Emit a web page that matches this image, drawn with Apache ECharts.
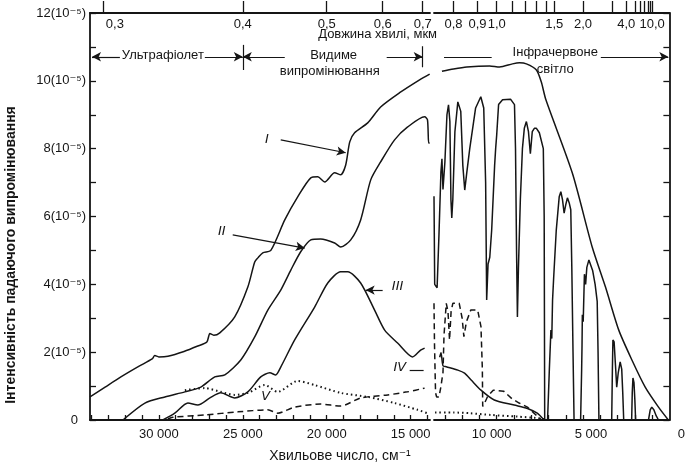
<!DOCTYPE html>
<html><head><meta charset="utf-8">
<script src="https://cdn.jsdelivr.net/npm/echarts@6/dist/echarts.min.js"></script>
<style>html,body{margin:0;padding:0;background:#fff}#c{width:688px;height:469px}</style>
</head><body><div id="c"></div>
<script>
// ---- data: [wavenumber cm^-1, intensity (×10^-5)] ----
const curveI_left = [[34100,0.68],[33200,0.97],[32260,1.27],[31200,1.58],[30400,1.80],[30240,1.90],[30000,1.86],[29460,1.88],[28500,2.02],[27680,2.18],[27140,2.30],[26960,2.55],[26730,2.50],[26370,2.57],[25480,3.04],[24700,3.92],[24290,4.66],[24100,4.78],[23810,4.93],[23330,5.00],[22500,5.90],[21730,6.58],[20950,7.14],[20540,7.17],[20120,7.02],[19530,7.29],[19170,7.23],[18870,7.52],[18630,8.20],[18340,8.47],[17560,8.76],[16790,9.23],[15660,9.65],[14470,10.03],[13870,10.20]];
const curveI_right = [[13170,10.28],[12500,10.35],[11730,10.41],[10410,10.44],[9830,10.41],[9085,10.50],[8680,10.53],[8280,10.50],[7700,10.32],[7420,9.97],[7150,9.44],[5620,7.28],[4470,5.10],[3700,3.92],[2930,2.65],[2170,1.77],[1400,0.97],[630,0.38],[60,0]];
const curveII_left = [[32140,0],[30830,0.50],[29640,0.68],[28450,0.83],[27500,0.97],[26670,1.27],[26070,1.33],[25120,1.77],[24290,2.45],[23510,3.24],[22740,3.83],[22140,4.42],[21550,4.96],[20950,5.31],[20360,5.34],[19530,5.22],[19170,5.10],[18570,5.31],[17980,5.90],[17380,7.08],[16790,7.61],[15960,8.26],[15180,8.64],[14170,8.94],[14000,8.85],[13930,8.17],[13870,8.17]];
const curveII_right = [[13630,6.6],[13590,4.0],[13450,3.9],[13340,5.5],[13230,7.3],[13170,7.7],[13110,6.8],[13000,7.6],[12880,9.0],[12790,9.29],[12710,8.8],[12650,6.5],[12600,5.96],[12540,6.5],[12420,8.5],[12250,9.38],[12080,9.1],[11960,7.5],[11850,6.78],[11730,7.3],[11560,8.0],[11220,9.2],[10920,9.53],[10750,9.2],[10640,7.0],[10580,3.54],[10500,4.6],[10400,4.8],[10290,5.6],[10120,7.5],[10060,8.0],[10000,8.4],[9890,9.3],[9660,9.44],[9200,9.46],[8970,9.3],[8910,8.0],[8850,5.0],[8800,3.04],[8740,4.5],[8630,6.5],[8510,8.0],[8400,8.6],[8280,8.8],[8160,8.5],[8050,7.85],[7940,8.5],[7820,8.6],[7700,8.6],[7530,8.47],[7300,8.0],[7250,6.0],[7220,0],[7055,0],[6950,1.5],[6860,2.65],[6810,2.4],[6765,3.54],[6700,4.2],[6550,5.6],[6380,6.58],[6285,6.73],[6190,6.5],[6095,6.1],[6000,6.35],[5905,6.55],[5800,6.4],[5710,6.2],[5650,4.5],[5580,2.0],[5520,0],[5140,0],[5080,1.5],[5060,2.15],[5040,3.1],[4990,2.9],[4920,4.3],[4850,4.0],[4780,4.5],[4660,4.72],[4560,4.75],[4440,4.4],[4300,4.0],[4180,3.5],[4130,2.0],[4080,0],[3340,0],[3300,1.5],[3270,2.36],[3200,2.3],[3120,1.6],[3050,0.97],[2960,1.4],[2850,1.71],[2760,1.5],[2700,0.8],[2645,0],[2185,0],[2150,0.8],[2110,1.24],[2050,1.1],[2000,0.6],[1955,0],[1210,0],[1110,0.3],[1020,0.38],[900,0.3],[760,0.12],[630,0],[0,0]];
const curveIII_left = [[29760,0],[29050,0.20],[28270,0.50],[27680,0.44],[26960,0.65],[26310,0.80],[25480,0.65],[24700,0.83],[23930,1.27],[23390,1.39],[23040,1.33],[22740,1.56],[21910,2.36],[20720,3.33],[19940,4.04],[19170,4.37],[18750,4.37],[17980,4.04],[17150,3.24],[16550,2.65],[15780,2.27],[14890,1.86],[14410,2.06],[14170,2.12]];
const curveIII_right = [[13300,1.85],[13225,1.98],[13110,1.60],[12920,1.57],[12250,1.47],[11860,1.38],[11480,1.18],[10910,0.88],[10140,0.59],[8990,0.44],[8220,0.34],[7650,0.20],[7260,0]];
const curveIV_left = [[29460,0.03],[29170,0.08],[27260,0.15],[25300,0.24],[23510,0.30],[22920,0.20],[21910,0.38],[20360,0.47],[19170,0.41],[17980,0.65],[16370,0.74],[15180,0.83],[14170,0.94]];
const curveIV_right = [[13630,3.44],[13600,2.2],[13570,1.5],[13540,0.8],[13480,0.68],[13340,0.68],[13225,1.0],[13110,1.4],[13050,2.5],[12920,3.44],[12820,3.2],[12730,2.36],[12640,3.2],[12540,3.44],[12170,3.44],[12000,3.0],[11900,2.46],[11750,2.9],[11500,3.24],[11100,3.24],[10910,2.75],[10830,1.5],[10810,0.4],[10700,0.5],[10520,0.7],[10200,0.88],[9600,0.85],[9100,0.62],[8700,0.5],[8220,0.38],[7840,0.2],[7450,0.03]];
const curveV_left = [[28450,0.88],[27260,0.94],[26310,0.83],[25480,0.74],[24700,0.80],[23690,1.03],[22920,0.83],[21730,1.15],[20720,1.03],[19170,0.80],[17560,0.68],[15960,0.50],[14590,0.30],[14000,0.20]];
const curveV_right = [[13570,0.22],[12480,0.22],[11560,0.20],[10350,0.15],[8800,0.10],[7700,0.06],[7245,0.02]];

// ---- axes / ticks ----
const bottomTicksLeft = [14000,15000,16000,17000,18000,19000,20000,21000,22000,23000,24000,25000,26000,27000,28000,29000,30000,31000,32000,33000,34000];
const bottomLabelsLeft = [15000,20000,25000,30000];
const bottomTicksRight = [1000,2000,3000,4000,5000,6000,7000,8000,9000,10000,11000,12000,13000];
const bottomLabelsRight = [0,5000,10000];
const topTickWavelengths = [0.3,0.4,0.5,0.6,0.7,0.8,0.9,1.0,1.1,1.2,1.3,1.4,1.5,2.0,3.0,4.0,5.0,6.0,7.0,8.0,9.0,10.0];
const topLabelWavelengths = [0.3,0.4,0.5,0.6,0.7,0.8,0.9,1.0,1.5,2.0,4.0,10.0];
const topLabelTexts = ['0,3','0,4','0,5','0,6','0,7','0,8','0,9','1,0','1,5','2,0','4,0','10,0'];
const leftRange = [13850, 34100];
const rightRange = [0, 13630];

const FONT = "'Liberation Sans', 'DejaVu Sans', Arial, sans-serif";
const INK = '#151515';
const toWn = l => 1e4 / l;
const topTicksL = topTickWavelengths.map(toWn).filter(v => v >= leftRange[0]);
const topTicksR = topTickWavelengths.map(toWn).filter(v => v <= rightRange[1]);
const topLabsL = topLabelWavelengths.map(toWn).filter(v => v >= leftRange[0]);
const topLabsR = topLabelWavelengths.map(toWn).filter(v => v <= rightRange[1]);
function topFmt(v) {
  const i = topLabelWavelengths.findIndex(l => Math.abs(toWn(l) - v) < 1);
  if (i < 0) return '';
  return i === 0 ? '{s|' + topLabelTexts[i] + '}' : topLabelTexts[i];
}
const thou = v => String(v).replace(/\B(?=(\d{3})+(?!\d))/g, ' ');
const axisLineStyle = { color: INK, width: 1.8 };
const labelStyle = { color: INK, fontFamily: FONT, fontSize: 13 };

function bottomAxis(grid, range, ticks, labels, fmt, rich) {
  return {
    type: 'value', gridIndex: grid, position: 'bottom', inverse: true,
    min: range[0], max: range[1],
    axisLine: { show: true, lineStyle: axisLineStyle },
    axisTick: { show: true, inside: true, length: 5, customValues: ticks, lineStyle: { color: INK, width: 1.3 } },
    axisLabel: Object.assign({ show: true, margin: 8, customValues: labels, formatter: fmt, rich: rich || {} }, labelStyle),
    splitLine: { show: false }
  };
}
function topAxis(grid, range, ticks, labels) {
  return {
    type: 'value', gridIndex: grid, position: 'top', inverse: true,
    min: range[0], max: range[1],
    axisLine: { show: true, lineStyle: axisLineStyle },
    axisTick: { show: true, inside: false, length: 12, customValues: ticks, lineStyle: { color: INK, width: 1.3 } },
    axisLabel: Object.assign({ show: true, inside: true, margin: 5, customValues: labels, formatter: topFmt,
      rich: { s: { padding: [0, 0, 0, 24], fontSize: 13, fontFamily: FONT, color: INK } } }, labelStyle),
    splitLine: { show: false }
  };
}
const solid = { color: INK, width: 1.5, type: 'solid' };
const dashed = { color: INK, width: 1.5, type: [6, 4] };
const dotted = { color: INK, width: 2, type: [1.5, 3] };
function ser(data, grid, style, extra) {
  return Object.assign({
    type: 'line', data: data, xAxisIndex: grid === 0 ? 0 : 2, yAxisIndex: grid,
    showSymbol: false, symbol: 'none', lineStyle: style, smooth: 0.25, silent: true, z: 3
  }, extra || {});
}
const annStyle = { color: INK, width: 1.2, type: 'solid' };
function seg(a, b, s1, s2, w) {
  return [{ coord: a, symbol: s1 || 'none', lineStyle: Object.assign({}, annStyle, w ? { width: w } : {}) }, { coord: b, symbol: s2 || 'none' }];
}
function txt(coord, text, extra) {
  return {
    coord: coord, symbol: 'circle', symbolSize: 1, itemStyle: { color: 'rgba(0,0,0,0)' },
    label: Object.assign({ show: true, position: 'inside', formatter: text, color: INK, fontFamily: FONT, fontSize: 13 }, extra || {})
  };
}
const italic = { fontStyle: 'italic', fontSize: 13, fontFamily: "'DejaVu Sans', sans-serif" };

const chart = echarts.init(document.getElementById('c'), null, { renderer: 'canvas' });
chart.setOption({
  animation: false,
  backgroundColor: '#fff',
  grid: [
    { left: 90, top: 13, width: 340, height: 407 },
    { left: 434, top: 13, width: 237, height: 407 }
  ],
  xAxis: [
    bottomAxis(0, leftRange, bottomTicksLeft, bottomLabelsLeft, v => thou(v)),
    topAxis(0, leftRange, topTicksL, topLabsL),
    bottomAxis(1, rightRange, bottomTicksRight, bottomLabelsRight,
      v => v === 0 ? '{a|0}' : (v === 5000 ? '{b|5 000}' : '{c|10 000}'),
      { a: { padding: [0, 0, 0, 24], fontSize: 13, fontFamily: FONT, color: INK },
        b: { padding: [0, 0, 0, 16], fontSize: 13, fontFamily: FONT, color: INK },
        c: { padding: [0, 10, 0, 0], fontSize: 13, fontFamily: FONT, color: INK } }),
    topAxis(1, rightRange, topTicksR, topLabsR)
  ],
  yAxis: [
    { type: 'value', gridIndex: 0, position: 'left', min: 0, max: 12, interval: 1,
      axisLine: { show: true, lineStyle: axisLineStyle },
      axisTick: { show: true, inside: true, length: 6, lineStyle: { color: INK, width: 1.3 } },
      axisLabel: Object.assign({ margin: 4, formatter: v => v === 0 ? '{z|0}' : (v % 2 === 0 ? v + '(10⁻⁵)' : ''),
        rich: { z: { padding: [0, 8, 0, 0], fontSize: 13, fontFamily: FONT, color: INK } } }, labelStyle),
      splitLine: { show: false } },
    { type: 'value', gridIndex: 1, position: 'right', min: 0, max: 12, interval: 1,
      axisLine: { show: true, lineStyle: axisLineStyle },
      axisTick: { show: true, inside: true, length: 6, lineStyle: { color: INK, width: 1.3 } },
      axisLabel: { show: false }, splitLine: { show: false } }
  ],
  series: [
    ser(curveI_left, 0, solid),
    ser(curveII_left, 0, solid),
    ser(curveIII_left, 0, solid),
    ser(curveIV_left, 0, dashed),
    ser(curveV_left, 0, dotted, {
      markLine: { silent: true, symbolSize: [7, 9], label: { show: false }, animation: false,
        data: [
          seg([22740, 8.26], [18870, 7.88], 'none', 'arrow'),
          seg([25600, 5.46], [21310, 5.07], 'none', 'arrow'),
          seg([16670, 3.83], [17680, 3.83], 'none', 'arrow'),
          seg([15060, 1.47], [14230, 1.47]),
          seg([33980, 10.71], [32320, 10.71], 'arrow', 'none'),
          seg([27260, 10.71], [25000, 10.71], 'none', 'arrow'),
          seg([25000, 10.71], [22500, 10.71], 'arrow', 'none'),
          seg([16430, 10.71], [14286, 10.71], 'none', 'arrow'),
          seg([25000, 10.32], [25000, 11.06]),
          seg([14286, 10.40], [14286, 11.02])
        ] },
      markPoint: { silent: true, animation: false,
        data: [
          txt([23570, 8.26], 'I', italic),
          txt([26250, 5.55], 'II', italic),
          txt([15780, 3.92], 'III', italic),
          txt([15650, 1.53], 'IV', italic),
          txt([23630, 0.68], 'V', italic),
          txt([29760, 10.74], 'Ультрафіолет'),
          txt([19590, 10.74], 'Видиме'),
          txt([19820, 10.27], 'випромінювання'),
          txt([16970, 11.36], 'Довжина хвилі, мкм')
        ] } }),
    ser(curveI_right, 1, solid),
    ser(curveII_right, 1, solid, { smooth: false }),
    ser(curveIII_right, 1, solid),
    ser(curveIV_right, 1, dashed, { smooth: false }),
    ser(curveV_right, 1, dotted, {
      markLine: { silent: true, symbolSize: [7, 9], label: { show: false }, animation: false,
        data: [
          seg([13050, 10.71], [10290, 10.71]),
          seg([3970, 10.71], [60, 10.71], 'none', 'arrow')
        ] },
      markPoint: { silent: true, animation: false,
        data: [
          txt([6610, 10.83], 'Інфрачервоне'),
          txt([6610, 10.35], 'світло')
        ] } })
  ],
  graphic: [
    { type: 'text', x: 11, y: 255, rotation: Math.PI / 2,
      style: { text: 'Інтенсивність падаючого випромінювання', fill: INK, font: '600 14px ' + FONT, textAlign: 'center', textVerticalAlign: 'middle' } },
    { type: 'text', x: 340, y: 456,
      style: { text: 'Хвильове число, см⁻¹', fill: INK, font: '14px ' + FONT, textAlign: 'center', textVerticalAlign: 'middle' } }
  ]
});
</script></body></html>
